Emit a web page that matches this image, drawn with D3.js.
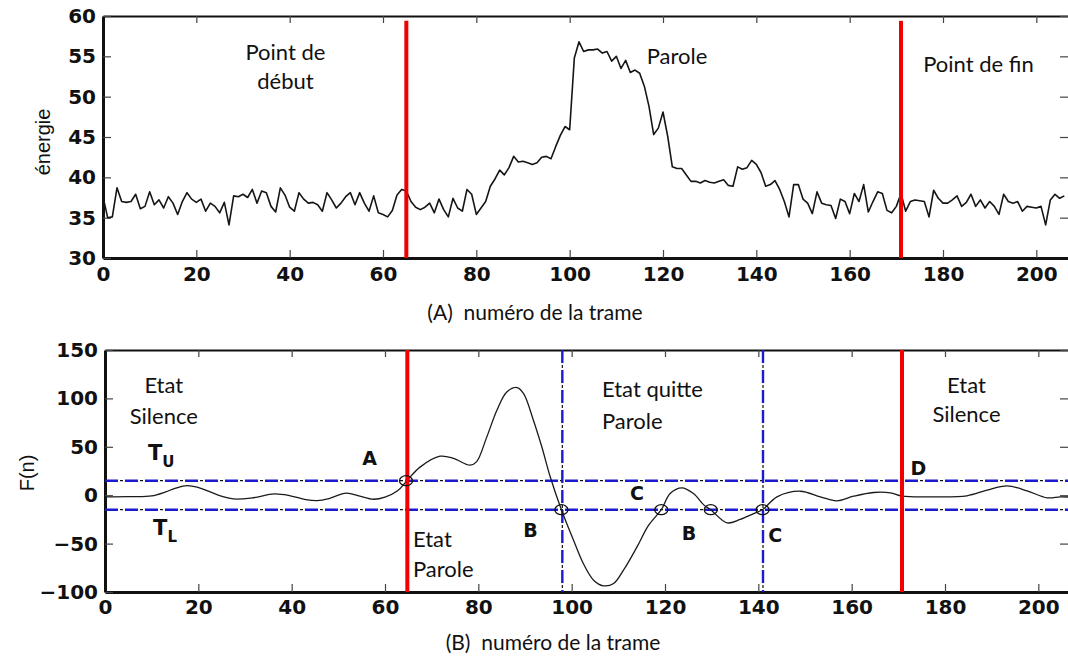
<!DOCTYPE html>
<html>
<head>
<meta charset="utf-8">
<script src="https://cdn.jsdelivr.net/npm/d3@7"></script>
<style>
  html, body { margin: 0; padding: 0; background: #fff; }
  svg { display: block; }
  .tick text { font-family: "DejaVu Sans", sans-serif; font-weight: bold; font-size: 20px; fill: #111; }
  .tick line { stroke: #444; stroke-width: 1.2; }
  .note { font-family: Lato, "Open Sans", sans-serif; font-size: 22px; fill: #111; }
  .letter { font-family: "DejaVu Sans", sans-serif; font-weight: bold; font-size: 19px; fill: #111; }
  .axlabel { font-family: "Liberation Sans", Arial, sans-serif; font-size: 20px; fill: #111; }
  .caption { font-family: Lato, "Open Sans", sans-serif; font-size: 21px; fill: #111; white-space: pre; }
</style>
</head>
<body>
<svg id="chart" width="1068" height="658"></svg>
<script>
// Frame energy (one value per frame, frame = index)
const energy = [
  37.6, 35.0, 35.1, 38.7, 37.0, 36.9, 37.0, 37.9, 36.1, 36.4,
  38.2, 36.6, 37.2, 36.2, 37.6, 36.8, 35.4, 37.0, 38.1, 37.3,
  36.9, 37.3, 35.8, 36.8, 36.4, 35.6, 36.9, 34.1, 37.7, 37.6,
  37.9, 37.5, 38.5, 36.8, 38.3, 38.1, 36.4, 35.7, 38.7, 37.8,
  36.3, 35.8, 38.1, 37.3, 36.8, 36.9, 36.6, 35.8, 38.1, 37.2,
  36.2, 36.8, 37.6, 38.1, 36.6, 38.1, 36.8, 35.8, 37.7, 35.6,
  35.4, 35.1, 35.9, 37.8, 38.5, 38.3, 37.0, 36.3, 36.0, 36.3,
  36.8, 35.6, 37.3, 36.0, 35.1, 37.4, 36.2, 35.8, 38.5, 37.9,
  35.4, 36.2, 37.0, 38.9, 39.8, 40.9, 40.3, 41.2, 42.6, 41.9,
  42.0, 41.8, 41.6, 41.8, 42.5, 42.6, 42.3, 43.8, 45.2, 46.3,
  45.9, 54.8, 56.8, 55.6, 55.8, 55.8, 55.9, 55.4, 55.6, 54.4,
  55.0, 53.5, 54.5, 53.0, 53.3, 52.9, 51.3, 48.8, 45.3, 46.1,
  48.1, 45.1, 41.3, 41.1, 41.1, 40.3, 39.5, 39.5, 39.3, 39.6,
  39.4, 39.3, 39.5, 39.7, 39.0, 38.9, 41.3, 41.0, 41.2, 42.1,
  41.6, 40.6, 38.9, 39.1, 39.6, 38.5, 37.0, 35.1, 39.1, 39.1,
  37.3, 36.8, 35.5, 38.2, 36.8, 36.6, 36.5, 34.9, 37.3, 37.0,
  35.5, 38.0, 37.0, 39.1, 35.7, 37.0, 38.2, 38.0, 35.9, 35.6,
  36.4, 38.0, 35.8, 37.0, 37.2, 37.1, 37.0, 35.1, 38.4, 37.4,
  36.8, 36.8, 37.2, 37.7, 36.4, 36.9, 37.9, 36.4, 37.2, 36.2,
  37.0, 36.4, 35.4, 37.9, 37.0, 36.8, 37.0, 35.8, 36.4, 36.3,
  36.2, 36.4, 34.1, 37.2, 37.9, 37.4, 37.7
];

// F(n) sampled at these frames
const fFrames = [
  0, 5, 10, 13, 15, 17.6, 20.7, 24, 27.5, 31.5, 36.3, 39.7, 43, 45.5, 48,
  51.7, 54.6, 57.5, 60, 62.7, 64.7, 67.5, 71.8, 74.7, 78.2, 79.6, 81.8, 84,
  86.1, 88.3, 89.7, 91.8, 93.6, 95.4, 97.8, 100.4, 102.5, 104.7, 106.8, 109,
  111.1, 114, 116.5, 119.2, 121.1, 123.6, 126.1, 128.3, 129.8, 133.3, 136.1,
  139, 140.9, 144, 149, 153.3, 156.8, 160.4, 164.7, 168.3, 170.8, 177.6,
  184.7, 189, 193.3, 197.6, 201.9, 204.7, 207
];
const fValues = [
  -1.7, -1.5, -0.8, 3.4, 7, 9.8, 6.9, 0.5, -3.8, -2.8, 1.3, -0.6, -4.5, -5.6, -3.5,
  2.2, -1.0, -4.2, -2.0, 4.5, 15, 29, 40.3, 38, 31, 34.4, 60, 88,
  106.7, 111.2, 105, 77.5, 50, 19, -15, -46.5, -70.6, -87.8, -93.6, -91.2,
  -77.5, -53.4, -31, -15, 1.7, 7.6, 1.7, -10, -15, -28.6, -25,
  -19, -15, -1.7, 4.1, -1.7, -5.8, -1, 2.8, 2.4, -1, -1.7,
  -0.6, 5.2, 9.6, 4.5, -2.7, -1.7, -2
];

// Thresholds, boundaries and crossings
const thresholdUpper = 15;
const thresholdLower = -15;
const speechBounds = [65, 171];      // red: start / end point
const stateMarks = [98, 141];        // blue: state changes
const crossFrames = [64.5, 97.8, 119.2, 129.8, 140.9];
const crossValues = [15, -15, -15, -15, -15];

const xTicks = [0, 20, 40, 60, 80, 100, 120, 140, 160, 180, 200];
const energyTicks = [30, 35, 40, 45, 50, 55, 60];
const fTicks = [-100, -50, 0, 50, 100, 150];

const svg = d3.select("#chart");
svg.append("rect").attr("width", 1068).attr("height", 658).attr("fill", "#fff");

const RED = "#f20000", BLUE = "#1a1ad0";

// box with inward ticks on every side; labels on left and bottom
function box(g, x, y, yTicks, left, rightX, padX) {
  const [yb, yt] = y.range();
  g.append("g").attr("transform", `translate(0,${yt})`)
    .call(d3.axisTop(x).tickValues(xTicks).tickSizeInner(-7).tickSizeOuter(0).tickFormat(""))
    .call(a => a.select(".domain").attr("stroke", "#111").attr("stroke-width", 2.2));
  g.append("g").attr("transform", `translate(${rightX},0)`)
    .call(d3.axisRight(y).tickValues(yTicks).tickSizeInner(-9).tickSizeOuter(0).tickFormat(""))
    .call(a => a.select(".domain").remove());
  g.append("g").attr("transform", `translate(0,${yb})`)
    .call(d3.axisBottom(x).tickValues(xTicks).tickSizeInner(-8).tickSizeOuter(0).tickPadding(padX))
    .call(a => a.select(".domain").attr("stroke", "#111").attr("stroke-width", 3));
  g.append("g").attr("transform", `translate(${left},0)`)
    .call(d3.axisLeft(y).tickValues(yTicks).tickSizeInner(-8).tickSizeOuter(0).tickPadding(7))
    .call(a => a.select(".domain").attr("stroke", "#111").attr("stroke-width", 3));
}

// ---------- Panel A : energy ----------
const xA = d3.scaleLinear().domain([0, 207]).range([103, 1069]);
const yA = d3.scaleLinear().domain([30, 60]).range([258, 16]);
const gA = svg.append("g");
box(gA, xA, yA, energyTicks, 103, 1069, 9);

gA.append("path").datum(energy)
  .attr("fill", "none").attr("stroke", "#151515").attr("stroke-width", 1.6)
  .attr("stroke-linejoin", "round")
  .attr("d", d3.line().x((d, i) => xA(i)).y(d => yA(d)));

gA.selectAll("line.bound").data(speechBounds).join("line")
  .attr("x1", d => xA(d)).attr("x2", d => xA(d))
  .attr("y1", yA(59.4)).attr("y2", yA(30))
  .attr("stroke", RED).attr("stroke-width", 4);

const notesA = [
  { t: "Point de", n: 39.1, v: 54.5, a: "middle" },
  { t: "début", n: 39.1, v: 50.9, a: "middle" },
  { t: "Parole", n: 123, v: 54.1, a: "middle" },
  { t: "Point de fin", n: 187.6, v: 53.1, a: "middle" }
];
gA.selectAll("text.note").data(notesA).join("text").attr("class", "note")
  .attr("x", d => xA(d.n)).attr("y", d => yA(d.v)).attr("text-anchor", d => d.a).text(d => d.t);

svg.append("text").attr("class", "axlabel")
  .attr("transform", "translate(50,142) rotate(-90)").attr("text-anchor", "middle").text("énergie");
svg.append("text").attr("class", "caption").attr("x", 535).attr("y", 320)
  .attr("text-anchor", "middle").text("(A)\u00a0\u00a0numéro de la trame");

// ---------- Panel B : F(n) ----------
const xB = d3.scaleLinear().domain([0, 207]).range([105, 1071]);
const yB = d3.scaleLinear().domain([-100, 150]).range([592, 350]);
const gB = svg.append("g");
box(gB, xB, yB, fTicks, 105, 1069, 8);

// dash-dot guides: blue dashes with a small black dot in each gap
function guide(sel, x1, y1, x2, y2) {
  sel.append("line").attr("x1", x1).attr("y1", y1).attr("x2", x2).attr("y2", y2)
    .attr("stroke", "#111").attr("stroke-width", 1.2)
    .attr("stroke-dasharray", "3,17").attr("stroke-dashoffset", -15);
  sel.append("line").attr("x1", x1).attr("y1", y1).attr("x2", x2).attr("y2", y2)
    .attr("stroke", BLUE).attr("stroke-width", 2.4).attr("stroke-dasharray", "13,7");
}
[thresholdUpper, thresholdLower].forEach(v => guide(gB, xB(0), yB(v), 1068, yB(v)));
stateMarks.forEach(n => guide(gB, xB(n), yB(150), xB(n), yB(-100)));

gB.append("path")
  .attr("fill", "none").attr("stroke", "#1a1a1a").attr("stroke-width", 1.3)
  .attr("d", d3.line().curve(d3.curveCatmullRom.alpha(0.5))
    .x(i => xB(fFrames[i])).y(i => yB(fValues[i]))(fFrames.map((d, i) => i)));

gB.selectAll("line.bound").data(speechBounds).join("line")
  .attr("x1", d => xB(d) - 1).attr("x2", d => xB(d) - 1)
  .attr("y1", yB(150)).attr("y2", yB(-100))
  .attr("stroke", RED).attr("stroke-width", 4);

gB.selectAll("ellipse").data(crossFrames).join("ellipse")
  .attr("cx", d => xB(d)).attr("cy", (d, i) => yB(crossValues[i]))
  .attr("rx", 6.5).attr("ry", 5)
  .attr("fill", "none").attr("stroke", "#111").attr("stroke-width", 1.3);

const notesB = [
  { t: "Etat", n: 12.6, v: 105.7, a: "middle" },
  { t: "Silence", n: 12.6, v: 73.3, a: "middle" },
  { t: "Etat", n: 66, v: -53.7, a: "start" },
  { t: "Parole", n: 66, v: -84.4, a: "start" },
  { t: "Etat quitte", n: 106.5, v: 101.5, a: "start" },
  { t: "Parole", n: 106.5, v: 67.9, a: "start" },
  { t: "Etat", n: 184.6, v: 105.7, a: "middle" },
  { t: "Silence", n: 184.6, v: 75.7, a: "middle" }
];
gB.selectAll("text.note").data(notesB).join("text").attr("class", "note")
  .attr("x", d => xB(d.n)).attr("y", d => yB(d.v)).attr("text-anchor", d => d.a).text(d => d.t);

const letters = [
  { t: "A", n: 55.1, v: 31 },
  { t: "B", n: 89.6, v: -43.1 },
  { t: "C", n: 112.5, v: -5.2 },
  { t: "B", n: 123.6, v: -46.5 },
  { t: "C", n: 142.1, v: -48.2 },
  { t: "D", n: 172.6, v: 20.7 }
];
gB.selectAll("text.letter").data(letters).join("text").attr("class", "letter")
  .attr("x", d => xB(d.n)).attr("y", d => yB(d.v)).text(d => d.t);

// threshold names with subscripts
const thr = [
  { t: "T", s: "U", n: 9.2, v: 36.2 },
  { t: "T", s: "L", n: 10.3, v: -41.3 }
];
thr.forEach(d => {
  const tx = gB.append("text").attr("class", "letter")
    .attr("x", xB(d.n)).attr("y", yB(d.v)).style("font-size", "21px");
  tx.append("tspan").text(d.t);
  tx.append("tspan").attr("dy", 7).style("font-size", "15px").text(d.s);
});

svg.append("text").attr("class", "axlabel")
  .attr("transform", "translate(34,473) rotate(-90)").attr("text-anchor", "middle").text("F(n)");
svg.append("text").attr("class", "caption").attr("x", 553).attr("y", 650)
  .attr("text-anchor", "middle").text("(B)\u00a0\u00a0numéro de la trame");
</script>
</body>
</html>
